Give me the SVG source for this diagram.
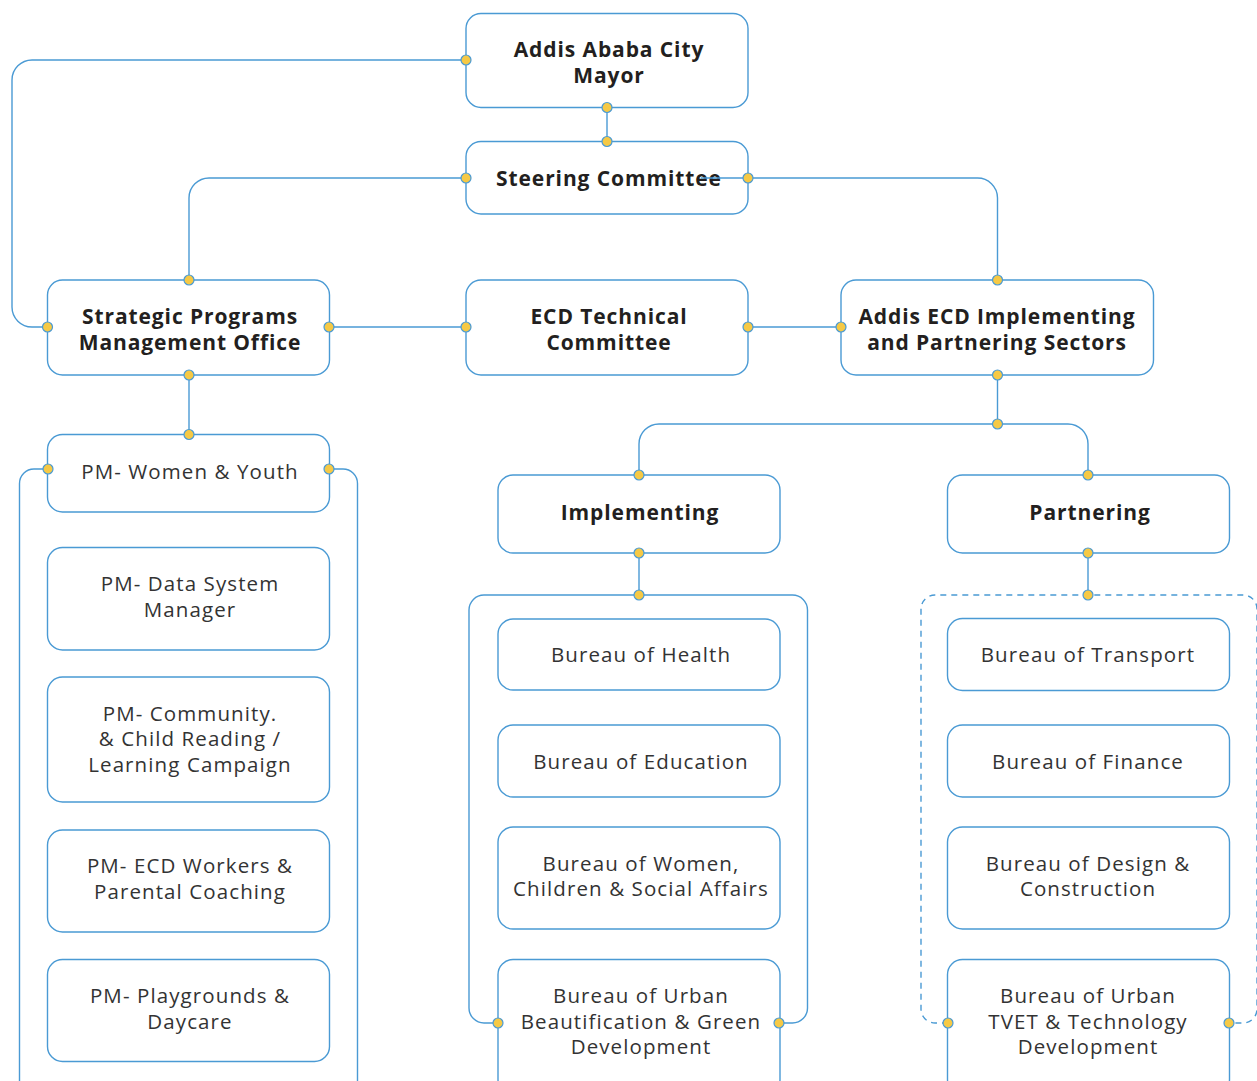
<svg xmlns="http://www.w3.org/2000/svg" width="1257" height="1081" viewBox="0 0 1257 1081">
<style>
.box{fill:#fff;stroke:#4a9ad4;stroke-width:1.4}
.c{fill:none;stroke:#4a9ad4;stroke-width:1.4}
.d{stroke-dasharray:6 5}
.dot{fill:#f6c945;stroke:#4a9ad4;stroke-width:1.2}
.b{font-family:"Open Sans","Liberation Sans",sans-serif;font-weight:700;font-size:21px;letter-spacing:0.9px;fill:#231f20;text-anchor:middle}
.r{font-family:"Open Sans","Liberation Sans",sans-serif;font-weight:400;font-size:20.5px;letter-spacing:1.1px;fill:#333;text-anchor:middle}
</style>
<rect width="1257" height="1081" fill="#fff"/>
<g id="connectors">
<path class="c" d="M466,60 H32 A20,20 0 0 0 12,80 V307 A20,20 0 0 0 32,327 H47.5"/>
<path class="c" d="M607,107.5 V141.5"/>
<path class="c" d="M466,178 H209 A20,20 0 0 0 189,198 V280"/>
<path class="c" d="M748,178 H977 A20,20 0 0 1 997.5,198 V280"/>
<path class="c" d="M329,327 H466"/>
<path class="c" d="M748,327 H841"/>
<path class="c" d="M997.5,375 V424"/>
<path class="c" d="M997.5,424 H659 A20,20 0 0 0 639,444 V475"/>
<path class="c" d="M997.5,424 H1068 A20,20 0 0 1 1088,444 V475"/>
<path class="c" d="M189,375 V434.5"/>
<path class="c" d="M48,469 H34 A14.5,14.5 0 0 0 19.5,483.5 V1100"/>
<path class="c" d="M329,469 H343 A14.5,14.5 0 0 1 357.5,483.5 V1100"/>
<path class="c" d="M639,553 V595"/>
<path class="c" d="M498,1023 H484 A15,15 0 0 1 469,1008 V610 A15,15 0 0 1 484,595 H792.5 A15,15 0 0 1 807.5,610 V1008 A15,15 0 0 1 792.5,1023 H779"/>
<path class="c" d="M1088,553 V595"/>
<path class="c d" d="M948,1023 H935 A14,14 0 0 1 921,1009 V609 A14,14 0 0 1 935,595 H1243 A14,14 0 0 1 1257,609 V1009 A14,14 0 0 1 1243,1023 H1229"/>
</g>
<g id="mayor"><rect class="box" x="466" y="13.5" width="282" height="94" rx="15"/><text class="b" x="609" y="57">Addis Ababa City</text><text class="b" x="609" y="83">Mayor</text></g>
<g id="steering"><rect class="box" x="466" y="141.5" width="282" height="72.5" rx="15"/><text class="b" x="609" y="186">Steering Committee</text></g>
<path class="c" d="M701,178 H748"/>
<g id="spmo"><rect class="box" x="47.5" y="280" width="282" height="95" rx="15"/><text class="b" x="190" y="324">Strategic Programs</text><text class="b" x="190" y="350">Management Office</text></g>
<g id="ecdtech"><rect class="box" x="466" y="280" width="282" height="95" rx="15"/><text class="b" x="609" y="324">ECD Technical</text><text class="b" x="609" y="350">Committee</text></g>
<g id="addis"><rect class="box" x="841" y="280" width="312.5" height="95" rx="15"/><text class="b" x="997" y="324">Addis ECD Implementing</text><text class="b" x="997" y="350">and Partnering Sectors</text></g>
<g id="pm1"><rect class="box" x="47.5" y="434.5" width="282" height="77.5" rx="15"/><text class="r" x="190" y="479">PM- Women &amp; Youth</text></g>
<g id="pm2"><rect class="box" x="47.5" y="547.5" width="282" height="102.5" rx="15"/><text class="r" x="190" y="591">PM- Data System</text><text class="r" x="190" y="617">Manager</text></g>
<g id="pm3"><rect class="box" x="47.5" y="677" width="282" height="125" rx="15"/><text class="r" x="190" y="721">PM- Community.</text><text class="r" x="190" y="746">&amp; Child Reading /</text><text class="r" x="190" y="772">Learning Campaign</text></g>
<g id="pm4"><rect class="box" x="47.5" y="830" width="282" height="102" rx="15"/><text class="r" x="190" y="873">PM- ECD Workers &amp;</text><text class="r" x="190" y="899">Parental Coaching</text></g>
<g id="pm5"><rect class="box" x="47.5" y="959.5" width="282" height="102" rx="15"/><text class="r" x="190" y="1003">PM- Playgrounds &amp;</text><text class="r" x="190" y="1029">Daycare</text></g>
<g id="implementing"><rect class="box" x="498" y="475" width="282" height="78" rx="15"/><text class="b" x="640" y="520">Implementing</text></g>
<g id="health"><rect class="box" x="498" y="619" width="282" height="71" rx="15"/><text class="r" x="641" y="662">Bureau of Health</text></g>
<g id="education"><rect class="box" x="498" y="725" width="282" height="72" rx="15"/><text class="r" x="641" y="769">Bureau of Education</text></g>
<g id="women"><rect class="box" x="498" y="827" width="282" height="102" rx="15"/><text class="r" x="641" y="871">Bureau of Women,</text><text class="r" x="641" y="896">Children &amp; Social Affairs</text></g>
<g id="urban"><rect class="box" x="498" y="959.5" width="282" height="135" rx="15"/><text class="r" x="641" y="1003">Bureau of Urban</text><text class="r" x="641" y="1029">Beautification &amp; Green</text><text class="r" x="641" y="1054">Development</text></g>
<g id="partnering"><rect class="box" x="947.5" y="475" width="282" height="78" rx="15"/><text class="b" x="1090" y="520">Partnering</text></g>
<g id="transport"><rect class="box" x="947.5" y="618.5" width="282" height="72" rx="15"/><text class="r" x="1088" y="662">Bureau of Transport</text></g>
<g id="finance"><rect class="box" x="947.5" y="725" width="282" height="72" rx="15"/><text class="r" x="1088" y="769">Bureau of Finance</text></g>
<g id="design"><rect class="box" x="947.5" y="827" width="282" height="102" rx="15"/><text class="r" x="1088" y="871">Bureau of Design &amp;</text><text class="r" x="1088" y="896">Construction</text></g>
<g id="tvet"><rect class="box" x="947.5" y="959.5" width="282" height="135" rx="15"/><text class="r" x="1088" y="1003">Bureau of Urban</text><text class="r" x="1088" y="1029">TVET &amp; Technology</text><text class="r" x="1088" y="1054">Development</text></g>
<g id="dots">
<circle class="dot" cx="466" cy="60" r="5"/><circle class="dot" cx="607" cy="107.5" r="5"/><circle class="dot" cx="607" cy="141.5" r="5"/><circle class="dot" cx="466" cy="178" r="5"/><circle class="dot" cx="748" cy="178" r="5"/><circle class="dot" cx="189" cy="280" r="5"/><circle class="dot" cx="997.5" cy="280" r="5"/><circle class="dot" cx="47.5" cy="327" r="5"/><circle class="dot" cx="329" cy="327" r="5"/><circle class="dot" cx="466" cy="327" r="5"/><circle class="dot" cx="748" cy="327" r="5"/><circle class="dot" cx="841" cy="327" r="5"/><circle class="dot" cx="189" cy="375" r="5"/><circle class="dot" cx="997.5" cy="375" r="5"/><circle class="dot" cx="997.5" cy="424" r="5"/><circle class="dot" cx="189" cy="434.5" r="5"/><circle class="dot" cx="48" cy="469" r="5"/><circle class="dot" cx="329" cy="469" r="5"/><circle class="dot" cx="639" cy="475" r="5"/><circle class="dot" cx="1088" cy="475" r="5"/><circle class="dot" cx="639" cy="553" r="5"/><circle class="dot" cx="1088" cy="553" r="5"/><circle class="dot" cx="639" cy="595" r="5"/><circle class="dot" cx="1088" cy="595" r="5"/><circle class="dot" cx="498" cy="1023" r="5"/><circle class="dot" cx="779" cy="1023" r="5"/><circle class="dot" cx="948" cy="1023" r="5"/><circle class="dot" cx="1229" cy="1023" r="5"/>
</g>
</svg>
